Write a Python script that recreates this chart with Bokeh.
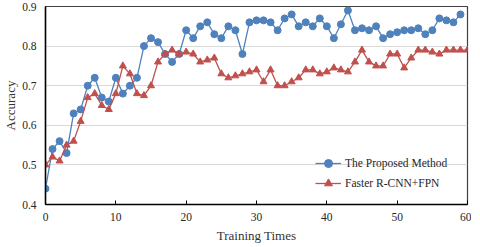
from bokeh.plotting import figure
from bokeh.models import Range1d, FixedTicker
from bokeh.embed import file_html
from bokeh.resources import INLINE

x_blue = list(range(0, 60))
proposed = [0.44, 0.54, 0.56, 0.53, 0.63, 0.64, 0.70, 0.72, 0.67, 0.66,
            0.72, 0.68, 0.70, 0.72, 0.80, 0.82, 0.81, 0.78, 0.76, 0.78,
            0.84, 0.82, 0.85, 0.86, 0.83, 0.82, 0.85, 0.84, 0.78, 0.86,
            0.865, 0.865, 0.86, 0.84, 0.87, 0.88, 0.85, 0.86, 0.85, 0.87,
            0.85, 0.82, 0.855, 0.89, 0.84, 0.845, 0.84, 0.85, 0.82, 0.83,
            0.835, 0.84, 0.84, 0.845, 0.83, 0.84, 0.87, 0.865, 0.86, 0.88]
x_red = list(range(0, 61))
faster = [0.50, 0.52, 0.51, 0.55, 0.56, 0.61, 0.67, 0.68, 0.65, 0.64,
          0.68, 0.75, 0.73, 0.68, 0.675, 0.70, 0.76, 0.78, 0.79, 0.78,
          0.785, 0.78, 0.76, 0.765, 0.77, 0.73, 0.72, 0.725, 0.73, 0.735,
          0.74, 0.71, 0.74, 0.70, 0.70, 0.71, 0.72, 0.74, 0.74, 0.73,
          0.735, 0.745, 0.74, 0.735, 0.76, 0.79, 0.76, 0.75, 0.75, 0.78,
          0.78, 0.745, 0.77, 0.79, 0.79, 0.785, 0.78, 0.79, 0.79, 0.79, 0.79]
x_ticks = [0, 10, 20, 30, 40, 50, 60]
y_ticks = [0.4, 0.5, 0.6, 0.7, 0.8, 0.9]

BLUE = "#4F81BD"
RED = "#C0504D"
FONT = "Liberation Serif"

p = figure(frame_width=422, frame_height=198, output_backend="svg", toolbar_location=None,
           x_range=Range1d(0, 60), y_range=Range1d(0.4, 0.9),
           min_border_left=38, min_border_right=4, min_border_top=6, min_border_bottom=36)

p.line(x_blue, proposed, color=BLUE, line_width=1.3, legend_label="The Proposed Method")
p.scatter(x_blue, proposed, marker="circle", size=7, color=BLUE, legend_label="The Proposed Method")
p.line(x_red, faster, color=RED, line_width=1.3, legend_label="Faster R-CNN+FPN")
p.scatter(x_red, faster, marker="triangle", size=7, color=RED, legend_label="Faster R-CNN+FPN")

p.xaxis.ticker = FixedTicker(ticks=x_ticks)
p.yaxis.ticker = FixedTicker(ticks=y_ticks)

for ax in (p.xaxis[0], p.yaxis[0]):
    ax.axis_line_color = "black"
    ax.axis_line_width = 1.5
    ax.minor_tick_line_color = None
    ax.major_label_text_font = FONT
    ax.major_label_text_font_size = "11.5px"
    ax.major_label_text_color = "#262626"
    ax.axis_label_text_font = FONT
    ax.axis_label_text_font_size = "13px"
    ax.axis_label_text_font_style = "normal"
    ax.axis_label_text_color = "#333333"

p.xaxis.axis_label = "Training Times"
p.yaxis.axis_label = "Accuracy"
p.xaxis.major_tick_in = 4
p.xaxis.major_tick_out = 0
p.xaxis.major_tick_line_color = "black"
p.xaxis.major_label_standoff = 8
p.xaxis.axis_label_standoff = 4
p.yaxis.major_tick_in = 0
p.yaxis.major_tick_out = 0
p.yaxis.major_label_standoff = 9
p.yaxis.axis_label_standoff = 1

p.xgrid.grid_line_color = None
p.ygrid.grid_line_color = "#d9d9d9"
p.ygrid.grid_line_width = 1

p.outline_line_color = "#404040"
p.outline_line_width = 1.2

lg = p.legend[0]
lg.location = (270, 11)
lg.background_fill_alpha = 0
lg.border_line_color = None
lg.padding = 0
lg.margin = 0
lg.spacing = 0
lg.glyph_width = 26
lg.glyph_height = 20
lg.label_height = 20
lg.label_standoff = 4
lg.label_text_font = FONT
lg.label_text_font_size = "11.5px"
lg.label_text_color = "#262626"

open("out.html", "w").write(file_html(p, INLINE))
